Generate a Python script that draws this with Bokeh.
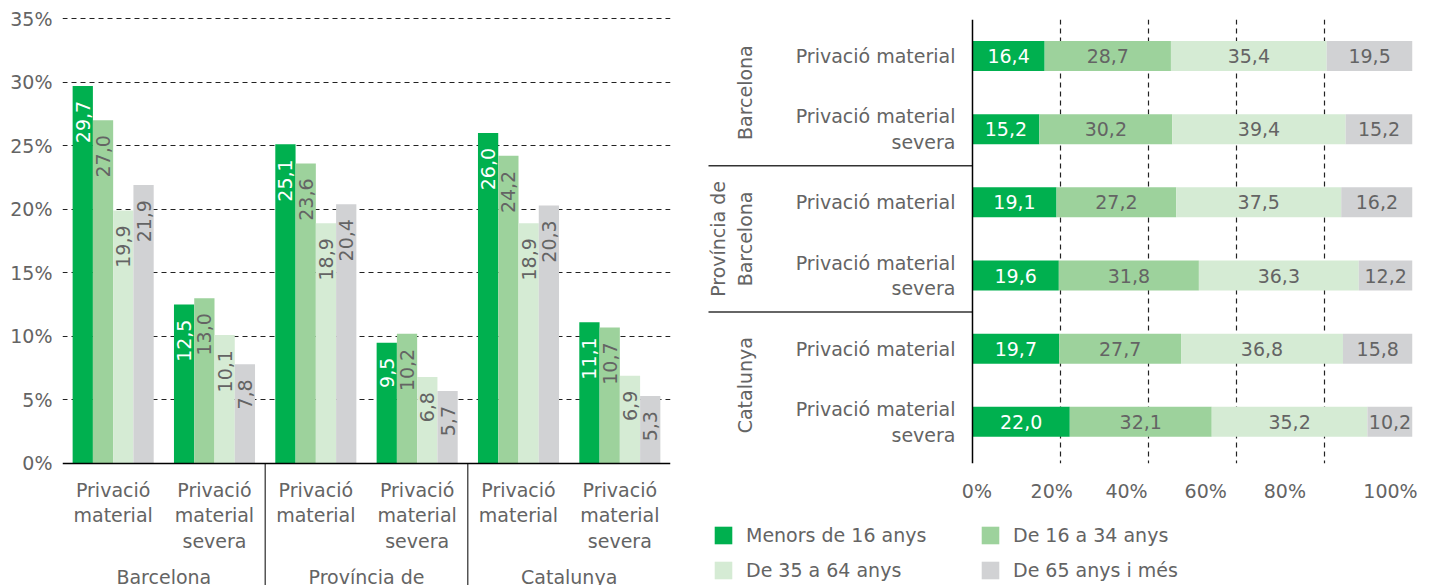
import math
import numpy as np
from bokeh.plotting import figure
from bokeh.models import Range1d, FixedTicker, PrintfTickFormatter, Span, Legend, LegendItem
from bokeh.embed import file_html
from bokeh.resources import INLINE
from bokeh.core.properties import value

# ---------------- data ----------------
series = ["Menors de 16 anys", "De 16 a 34 anys", "De 35 a 64 anys", "De 65 anys i més"]
regions = ["Barcelona", "Província de\nBarcelona", "Catalunya"]
indicators = ["Privació\nmaterial", "Privació\nmaterial\nsevera"]
row_labels = ["Privació material", "Privació material\nsevera"]

# left chart: rate (%) by age group, order: BCN PM, BCN PMS, Prov PM, Prov PMS, Cat PM, Cat PMS
rate_menors16 = [29.7, 12.5, 25.1, 9.5, 26.0, 11.1]
rate_16_34 = [27.0, 13.0, 23.6, 10.2, 24.2, 10.7]
rate_35_64 = [19.9, 10.1, 18.9, 6.8, 18.9, 6.9]
rate_65_mes = [21.9, 7.8, 20.4, 5.7, 20.3, 5.3]

# right chart: distribution (%) by age group
dist_menors16 = [16.4, 15.2, 19.1, 19.6, 19.7, 22.0]
dist_16_34 = [28.7, 30.2, 27.2, 31.8, 27.7, 32.1]
dist_35_64 = [35.4, 39.4, 37.5, 36.3, 36.8, 35.2]
dist_65_mes = [19.5, 15.2, 16.2, 12.2, 15.8, 10.2]

left_ticks = [0, 5, 10, 15, 20, 25, 30, 35]
right_ticks = [0, 20, 40, 60, 80, 100]
right_tick_labels = ["0%", "20%", "40%", "60%", "80%", "100%"]

# ---------------- style ----------------
FONT = "DejaVu Sans"
FS = "19px"
TXT = "#646464"
colors = ["#00B04F", "#9DD29C", "#D5EBD4", "#D1D2D4"]
label_colors = ["white", TXT, TXT, TXT]
DASH = "5 4"
GRID = "#222222"
H = 585
LW, RW = 690, 747


def fmt(v):
    return f"{v:.1f}".replace(".", ",")


def place(fig, x, y, w, h):
    fig.styles = {"position": "absolute", "left": f"{x}px", "top": f"{y}px",
                  "width": f"{w}px", "height": f"{h}px"}


# ================= left chart =================
rates = [rate_menors16, rate_16_34, rate_35_64, rate_65_mes]
ncat = len(regions) * len(indicators)
YMIN, YMAX = -9.596, 36.416

left = figure(width=LW, height=H, x_range=Range1d(0, ncat), y_range=Range1d(YMIN, YMAX),
              output_backend="svg", toolbar_location=None, x_axis_location=None,
              min_border_left=62, min_border_right=20, min_border_top=0, min_border_bottom=0)
place(left, 0, 0, LW, H)
left.outline_line_color = None
left.xgrid.visible = False
left.ygrid.ticker = FixedTicker(ticks=left_ticks[1:])
left.ygrid.grid_line_color = GRID
left.ygrid.grid_line_dash = DASH
left.ygrid.grid_line_width = 1.2

ya = left.yaxis[0]
ya.ticker = FixedTicker(ticks=left_ticks)
ya.formatter = PrintfTickFormatter(format="%d%%")
ya.axis_line_color = None
ya.major_tick_line_color = None
ya.minor_tick_line_color = None
ya.major_tick_out = 0
ya.minor_tick_out = 0
ya.major_label_standoff = 10
ya.major_label_text_font = FONT
ya.major_label_text_font_size = FS
ya.major_label_text_color = TXT

bw = 0.2
for k, (vals, col) in enumerate(zip(rates, colors)):
    xs = [i + 0.5 + (k - 1.5) * bw for i in range(ncat)]
    left.vbar(x=xs, top=vals, bottom=0, width=bw, color=col, line_color=None)
    left.text(x=xs, y=vals, text=[fmt(v) for v in vals], angle=math.pi / 2,
              text_align="right", text_baseline="middle", y_offset=15,
              text_font=value(FONT), text_font_size=FS, text_color=label_colors[k])

left.add_layout(Span(location=0, dimension="width", line_color="black", line_width=1.5))

bounds = [(g + 1) * len(indicators) for g in range(len(regions) - 1)]
left.segment(x0=bounds, y0=[0] * len(bounds), x1=bounds, y1=[YMIN] * len(bounds),
             line_color="black", line_width=1)

left.text(x=[i + 0.5 for i in range(ncat)], y=[-1.25] * ncat, text=indicators * len(regions),
          text_align="center", text_baseline="top", text_line_height=1.14,
          text_font=value(FONT), text_font_size=FS, text_color=TXT)
gx = [g * len(indicators) + len(indicators) / 2 for g in range(len(regions))]
left.text(x=gx, y=[-8.1] * len(regions), text=regions,
          text_align="center", text_baseline="top", text_line_height=1.14,
          text_font=value(FONT), text_font_size=FS, text_color=TXT)

# ================= right chart =================
dists = np.array([dist_menors16, dist_16_34, dist_35_64, dist_65_mes])
totals = dists.sum(axis=0)
cum = np.vstack([np.zeros(dists.shape[1]), np.cumsum(dists, axis=0)]) / totals * 100
nrow = dists.shape[1]
yc = [i + 0.5 for i in range(nrow)]

right = figure(width=RW, height=H, x_range=Range1d(-64.09, 100), y_range=Range1d(6.07, 0),
               output_backend="svg", toolbar_location=None, y_axis_location=None,
               min_border_left=0, min_border_right=25, min_border_top=19, min_border_bottom=H - 463)
place(right, LW, 0, RW, H)
right.outline_line_color = None
right.ygrid.visible = False
right.xgrid.ticker = FixedTicker(ticks=right_ticks[1:])
right.xgrid.grid_line_color = GRID
right.xgrid.grid_line_dash = DASH
right.xgrid.grid_line_width = 1.2

# the reference's tick labels sit slightly left of their gridlines
label_pos = [1, 18, 35, 53, 71, 95]
xa = right.xaxis[0]
xa.ticker = FixedTicker(ticks=label_pos)
xa.major_label_overrides = {p: t for p, t in zip(label_pos, right_tick_labels)}
xa.axis_line_color = None
xa.major_tick_line_color = None
xa.minor_tick_line_color = None
xa.major_tick_out = 0
xa.minor_tick_out = 0
xa.major_label_standoff = 16
xa.major_label_text_font = FONT
xa.major_label_text_font_size = FS
xa.major_label_text_color = TXT

for k in range(len(series)):
    right.hbar(y=yc, left=cum[k], right=cum[k + 1], height=0.41, color=colors[k], line_color=None)
    right.text(x=(cum[k] + cum[k + 1]) / 2, y=yc, text=[fmt(v) for v in dists[k]],
               text_align="center", text_baseline="middle",
               text_font=value(FONT), text_font_size=FS, text_color=label_colors[k])

right.add_layout(Span(location=0, dimension="height", line_color="black", line_width=1.5))

right.text(x=[-3.86] * nrow, y=yc, text=row_labels * len(regions),
           text_align="right", text_baseline="middle", text_line_height=1.18,
           text_font=value(FONT), text_font_size=FS, text_color=TXT)
right.text(x=[-49.3] * len(regions), y=gx, text=regions, angle=math.pi / 2,
           text_align="center", text_baseline="bottom", text_line_height=1.2,
           text_font=value(FONT), text_font_size=FS, text_color=TXT)
right.segment(x0=[-60] * len(bounds), y0=bounds, x1=[0] * len(bounds), y1=bounds,
              line_color="#333333", line_width=1.5)

# ================= legend (shared by both charts) =================
LGW, LGH = 540, H - 524
leg = figure(width=LGW, height=LGH, x_range=Range1d(0, 1), y_range=Range1d(0, 1),
             output_backend="svg", toolbar_location=None,
             x_axis_location=None, y_axis_location=None, min_border=0)
place(leg, 712, 524, LGW, LGH)
leg.outline_line_color = None
leg.xgrid.visible = False
leg.ygrid.visible = False
# swatch renderers only feed the legend; their single point lies outside the view
swatches = [leg.rect(x=[-1], y=[-1], width=0.1, height=0.1, color=c, line_color=None) for c in colors]
legend = Legend(items=[LegendItem(label=s, renderers=[r]) for s, r in zip(series, swatches)],
                location="top_left", orientation="horizontal", ncols=2,
                glyph_width=22, glyph_height=22, label_standoff=12, label_width=220, label_height=22,
                spacing=13, padding=0, margin=0, border_line_color=None, background_fill_alpha=0,
                label_text_font=FONT, label_text_font_size=FS, label_text_color=TXT)
leg.add_layout(legend)

open("out.html", "w").write(file_html([left, right, leg], INLINE))
